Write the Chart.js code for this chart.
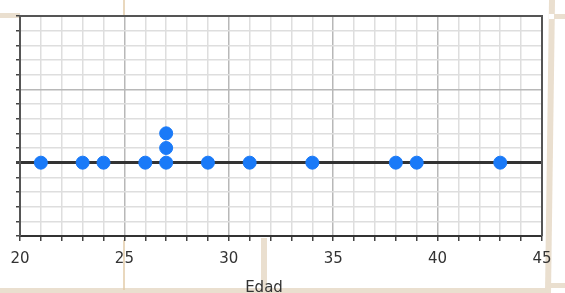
<!DOCTYPE html>
<html>
<head>
<meta charset="utf-8">
<script src="https://cdn.jsdelivr.net/npm/chart.js@4"></script>
<style>
  body { margin: 0; background: #fff; }
  canvas { display: block; }
</style>
</head>
<body>
<canvas id="myChart" width="565" height="293"></canvas>
<script>
// edades (eje x) y altura de apilado (eje y)
const edades = [21, 23, 24, 26, 27, 27, 27, 29, 31, 34, 38, 39, 43];
const pila = [0, 0, 0, 0, 0, 1, 2, 0, 0, 0, 0, 0, 0];
const ticksX = [20, 25, 30, 35, 40, 45];
const tituloX = 'Edad';

const beige = '#eadfcf';

// marco beige del fondo (decoración de la foto)
const marco = {
  id: 'marco',
  beforeDraw(chart) {
    const ctx = chart.ctx;
    ctx.save();
    ctx.fillStyle = '#fff';
    ctx.fillRect(0, 0, chart.width, chart.height);
    ctx.fillStyle = beige;
    ctx.fillRect(0, 13, 20, 5);
    ctx.fillRect(0, 288, 548, 5);
    ctx.fillRect(261, 238, 6, 50);
    ctx.beginPath();
    ctx.moveTo(549, 0); ctx.lineTo(555, 0); ctx.lineTo(551, 293); ctx.lineTo(545, 293);
    ctx.closePath();
    ctx.fill();
    ctx.fillRect(553, 14, 12, 5);
    ctx.fillRect(551, 283, 14, 5);
    ctx.fillStyle = '#fff';
    ctx.fillRect(549, 14, 5, 5);
    ctx.strokeStyle = '#e2cba9';
    ctx.lineWidth = 1.5;
    ctx.beginPath();
    ctx.moveTo(124, 0); ctx.lineTo(124, 15);
    ctx.moveTo(124, 240); ctx.lineTo(124, 290);
    ctx.stroke();
    ctx.restore();
  },
  beforeDatasetsDraw(chart) {
    const {ctx, chartArea: a} = chart;
    ctx.save();
    ctx.strokeStyle = '#555';
    ctx.lineWidth = 2;
    ctx.beginPath();
    ctx.moveTo(a.left, a.top); ctx.lineTo(a.right, a.top); ctx.lineTo(a.right, a.bottom);
    ctx.stroke();
    ctx.restore();
  },
  afterDraw(chart) {
    const ctx = chart.ctx;
    ctx.save();
    ctx.fillStyle = '#333';
    ctx.font = '15px "DejaVu Sans"';
    ctx.textAlign = 'center';
    ctx.textBaseline = 'middle';
    ctx.fillText(tituloX, 264, 288);
    ctx.restore();
  }
};

function colorRejilla(ctx) {
  const v = ctx.tick ? ctx.tick.value : 0;
  if (v === 0 && ctx.scale.axis === 'y') return '#333';
  return v % 5 === 0 ? '#b8b8b8' : '#dedede';
}

new Chart(document.getElementById('myChart'), {
  type: 'scatter',
  data: {
    datasets: [{
      data: edades.map((e, i) => ({x: e, y: pila[i]})),
      backgroundColor: '#1a7af8',
      borderColor: '#1a7af8',
      pointRadius: 6.5,
      pointHoverRadius: 6.5
    }]
  },
  plugins: [marco],
  options: {
    responsive: false,
    devicePixelRatio: 1,
    animation: false,
    layout: { padding: { top: 16, right: 23, left: 0, bottom: 0 } },
    plugins: { legend: { display: false }, tooltip: { enabled: false } },
    scales: {
      x: {
        type: 'linear',
        min: 20, max: 45,
        afterFit(scale) { scale.height = 57; },
        ticks: {
          stepSize: 1,
          maxTicksLimit: 100,
          autoSkip: false,
          maxRotation: 0,
          padding: 9,
          color: '#333',
          font: { family: 'DejaVu Sans', size: 15 },
          callback: v => ticksX.includes(v) ? String(v) : ''
        },
        grid: {
          color: colorRejilla,
          lineWidth: 1.5,
          tickColor: '#444',
          tickLength: 5
        },
        border: { display: true, color: '#333', width: 2 }
      },
      y: {
        type: 'linear',
        min: -5, max: 10,
        afterFit(scale) { scale.width = 20; },
        ticks: { stepSize: 1, maxTicksLimit: 100, autoSkip: false, padding: 0, callback: () => '' },
        grid: {
          color: colorRejilla,
          lineWidth: ctx => (ctx.tick && ctx.tick.value === 0) ? 3 : 1.5,
          tickColor: '#444',
          tickLength: 4
        },
        border: { display: true, color: '#555', width: 2 }
      }
    }
  }
});
</script>
</body>
</html>
